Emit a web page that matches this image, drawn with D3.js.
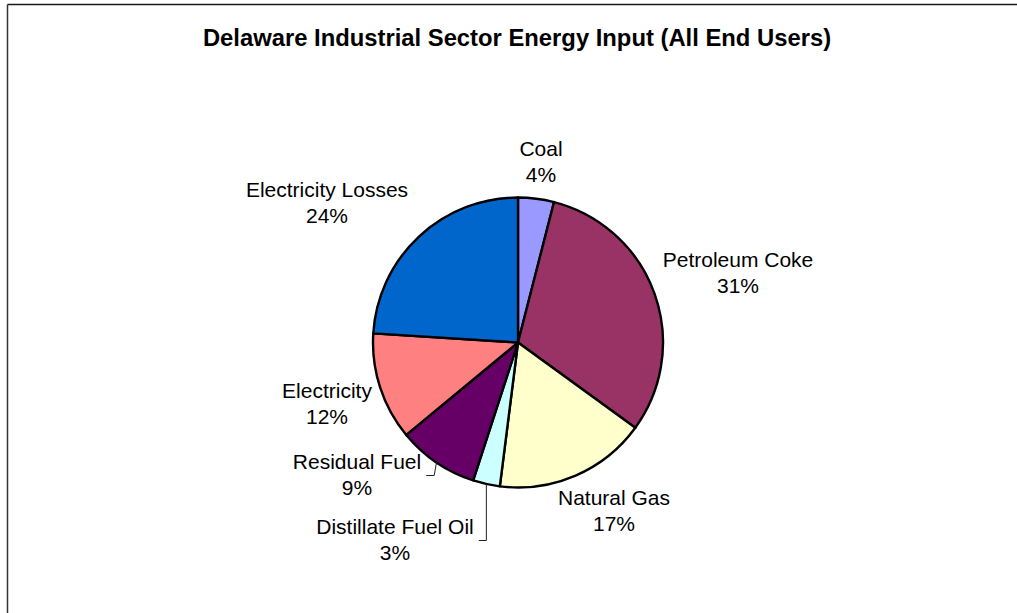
<!DOCTYPE html>
<html>
<head>
<meta charset="utf-8">
<script src="https://cdn.jsdelivr.net/npm/d3@7/dist/d3.min.js"></script>
<style>
  html, body { margin: 0; padding: 0; background: #ffffff; }
  svg { display: block; }
  text { font-family: "Liberation Sans", Arial, Helvetica, sans-serif; fill: #000; }
</style>
</head>
<body>
<svg id="chart" width="1017" height="613"></svg>
<script>
// Energy input shares by source (percent)
const categories = ["Coal", "Petroleum Coke", "Natural Gas", "Distillate Fuel Oil",
                    "Residual Fuel", "Electricity", "Electricity Losses"];
const shares = [4, 31, 17, 3, 9, 12, 24];
const sliceColors = ["#9999FF", "#993366", "#FFFFCC", "#CCFFFF", "#660066", "#FF8080", "#0066CC"];

// Label placement relative to the pie centre: [dx, first-line baseline dy], plus leader flag
const labelLayout = [
  { dx: 23,   dy: -187, leader: false },
  { dx: 220,  dy: -76,  leader: false },
  { dx: 96,   dy: 162,  leader: false },
  { dx: -123, dy: 191,  leader: true  },
  { dx: -161, dy: 126,  leader: true  },
  { dx: -191, dy: 55,   leader: false },
  { dx: -191, dy: -146, leader: false }
];

const W = 1017, H = 613;
const cx = 518, cy = 342.5, radius = 145;
const lineGap = 26.5;

const svg = d3.select("#chart");

// Frame: top and left edges
svg.append("line").attr("x1", 7.5).attr("y1", 4.5).attr("x2", W).attr("y2", 4.5)
  .attr("stroke", "#1a1a1a").attr("stroke-width", 1.5);
svg.append("line").attr("x1", 7.5).attr("y1", 4.5).attr("x2", 7.5).attr("y2", H)
  .attr("stroke", "#333").attr("stroke-width", 1.5);

// Title
svg.append("text")
  .attr("x", 517).attr("y", 46)
  .attr("text-anchor", "middle")
  .style("font-weight", "bold").style("font-size", "23.8px")
  .text("Delaware Industrial Sector Energy Input (All End Users)");

const data = categories.map((c, i) => ({ name: c, value: shares[i], color: sliceColors[i], layout: labelLayout[i] }));

const pie = d3.pie().value(d => d.value).sort(null);
const arcs = pie(data);
const arc = d3.arc().innerRadius(0).outerRadius(radius);
const rim = d3.arc().innerRadius(radius).outerRadius(radius);

const g = svg.append("g").attr("transform", `translate(${cx},${cy})`);

g.selectAll("path.slice")
  .data(arcs)
  .join("path")
  .attr("class", "slice")
  .attr("d", arc)
  .attr("fill", d => d.data.color)
  .attr("stroke", "#000")
  .attr("stroke-width", 2.4)
  .attr("stroke-linejoin", "round");

// Labels: category name on the first line, percentage on the second
const labels = g.selectAll("g.label")
  .data(arcs)
  .join("g")
  .attr("class", "label");

labels.each(function (d) {
  const L = d.data.layout;
  const grp = d3.select(this);
  const t1 = grp.append("text")
    .attr("x", L.dx).attr("y", L.dy)
    .attr("text-anchor", "middle")
    .style("font-size", "21px")
    .text(d.data.name);
  grp.append("text")
    .attr("x", L.dx).attr("y", L.dy + lineGap)
    .attr("text-anchor", "middle")
    .style("font-size", "21px")
    .text(d3.format(".0f")(d.data.value) + "%");

  if (L.leader) {
    const w = t1.node().getComputedTextLength();
    const right = L.dx + w / 2;
    const yMid = L.dy + 7;
    const edge = rim.centroid(d);
    const kneeX = Math.min(edge[0], right + 13);
    grp.append("path")
      .attr("d", d3.line()([[right + 5, yMid], [kneeX, yMid], edge]))
      .attr("fill", "none")
      .attr("stroke", "#222")
      .attr("stroke-width", 1);
  }
});
</script>
</body>
</html>
